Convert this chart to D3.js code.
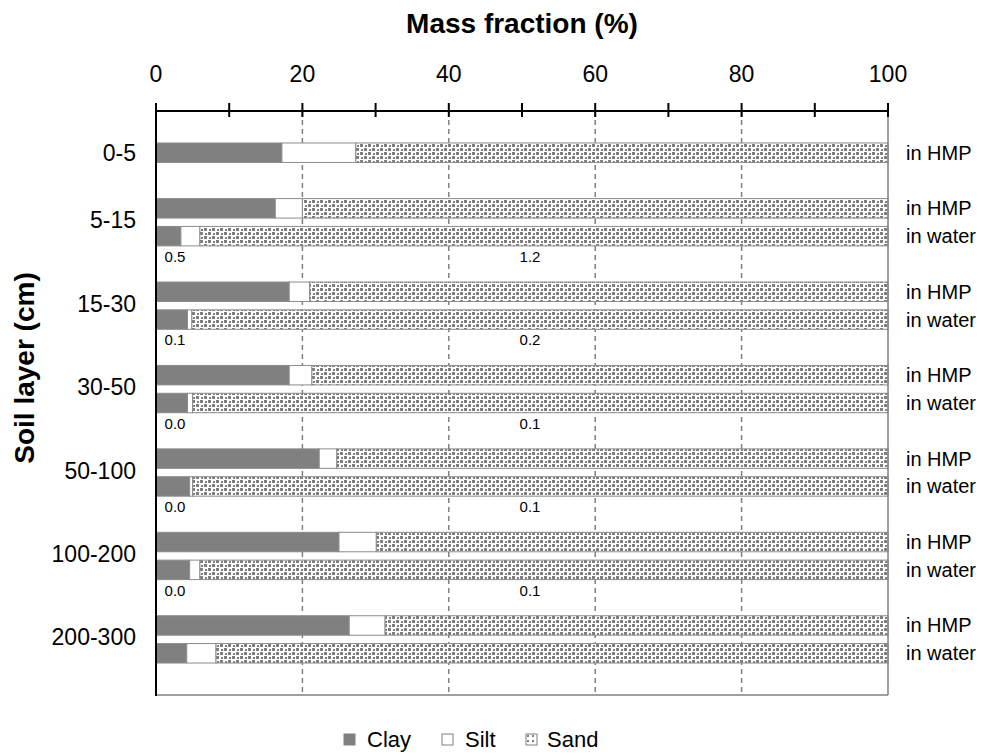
<!DOCTYPE html>
<html>
<head>
<meta charset="utf-8">
<script src="https://cdn.jsdelivr.net/npm/d3@7"></script>
<style>
  html, body { margin: 0; padding: 0; background: #fff; }
  svg { display: block; font-family: "Liberation Sans", Arial, sans-serif; }
</style>
</head>
<body>
<svg id="chart" width="989" height="755"></svg>
<script>
// ---- data ----
const categories = ["0-5", "5-15", "15-30", "30-50", "50-100", "100-200", "200-300"];
const hmpClay   = [17.2, 16.3, 18.2, 18.2, 22.3, 25.0, 26.4];
const hmpSilt   = [10.1, 3.7, 2.8, 3.1, 2.4, 5.1, 4.9];
const waterClay = [null, 3.4, 4.3, 4.3, 4.6, 4.6, 4.2];
const waterSilt = [null, 2.6, 0.6, 0.7, 0.4, 1.4, 4.0];
const waterNoteA = [null, "0.5", "0.1", "0.0", "0.0", "0.0", null];
const waterNoteB = [null, "1.2", "0.2", "0.1", "0.1", "0.1", null];
const xTickLabels = [0, 20, 40, 60, 80, 100];
const components = ["Clay", "Silt", "Sand"];

// ---- layout ----
const svg = d3.select("#chart");
const pLeft = 156, pRight = 888, pTop = 111, pBottom = 695;

const x = d3.scaleLinear().domain([0, 100]).range([pLeft, pRight]);

const slots = ["top-gap"];
categories.forEach((c, i) => {
  slots.push(c + "|HMP", c + "|water");
  if (i > 0) slots.push(c + "|gap");
});
const y = d3.scaleBand().domain(slots).range([pTop, pBottom]).paddingInner(0.3).paddingOuter(0.15);

// pattern for sand
const defs = svg.append("defs");
const pat = defs.append("pattern").attr("id", "confetti")
  .attr("patternUnits", "userSpaceOnUse").attr("width", 8).attr("height", 8);
pat.append("rect").attr("width", 8).attr("height", 8).attr("fill", "#fff");
[[0, 0, 3, 3], [4, 4, 3, 3], [5, 1, 2, 2], [1, 5, 2, 2]].forEach(r => {
  pat.append("rect").attr("x", r[0]).attr("y", r[1]).attr("width", r[2]).attr("height", r[3]).attr("fill", "#7f7f7f");
});

const legPat = defs.append("pattern").attr("id", "confettiSmall")
  .attr("patternUnits", "userSpaceOnUse").attr("width", 5).attr("height", 5);
legPat.append("rect").attr("width", 5).attr("height", 5).attr("fill", "#fff");
legPat.append("rect").attr("x", 1).attr("y", 1).attr("width", 2).attr("height", 2).attr("fill", "#7f7f7f");

const fills = { clay: "#808080", silt: "#ffffff", sand: "url(#confetti)" };

// gridlines
svg.append("g").selectAll("line")
  .data(xTickLabels.filter(v => v > 0 && v < 100))
  .join("line")
  .attr("x1", d => x(d)).attr("x2", d => x(d))
  .attr("y1", pTop).attr("y2", pBottom)
  .attr("stroke", "#808080").attr("stroke-width", 1.5)
  .attr("stroke-dasharray", "5,4");

// rows
const rows = [];
categories.forEach((c, i) => {
  rows.push({ slot: c + "|HMP", medium: "in HMP", clay: hmpClay[i], silt: hmpSilt[i], sand: 100 - hmpClay[i] - hmpSilt[i] });
  if (waterClay[i] != null) {
    rows.push({ slot: c + "|water", medium: "in water", clay: waterClay[i], silt: waterSilt[i], sand: 100 - waterClay[i] - waterSilt[i] });
  }
});

const stack = d3.stack().keys(["clay", "silt", "sand"]);
const series = stack(rows);

svg.append("g").selectAll("g")
  .data(series).join("g")
  .attr("fill", d => fills[d.key])
  .selectAll("rect")
  .data(d => d).join("rect")
  .attr("x", d => x(d[0]))
  .attr("width", d => x(d[1]) - x(d[0]))
  .attr("y", d => y(d.data.slot))
  .attr("height", y.bandwidth())
  .attr("stroke", "#8c8c8c").attr("stroke-width", 1);

// medium labels on right
svg.append("g").selectAll("text")
  .data(rows).join("text")
  .attr("x", 906)
  .attr("y", d => y(d.slot) + y.bandwidth() / 2)
  .attr("dy", "0.35em")
  .attr("font-size", 20)
  .attr("fill", "#000")
  .text(d => d.medium);

// small notes below water bars
const notes = [];
categories.forEach((c, i) => {
  if (waterNoteA[i] != null) notes.push({ slot: c + "|water", text: waterNoteA[i], pos: 2.6 });
  if (waterNoteB[i] != null) notes.push({ slot: c + "|water", text: waterNoteB[i], pos: 51.1 });
});
svg.append("g").selectAll("text")
  .data(notes).join("text")
  .attr("x", d => x(d.pos))
  .attr("y", d => y(d.slot) + y.bandwidth() + 16)
  .attr("text-anchor", "middle")
  .attr("font-size", 15)
  .attr("fill", "#000")
  .text(d => d.text);

// category labels
svg.append("g").selectAll("text")
  .data(categories).join("text")
  .attr("x", 136)
  .attr("y", (c, i) => {
    const a = y(c + "|HMP") + y.bandwidth() / 2;
    if (waterClay[i] == null) return a;
    const b = y(c + "|water") + y.bandwidth() / 2;
    return (a + b) / 2 - 2;
  })
  .attr("dy", "0.35em")
  .attr("text-anchor", "end")
  .attr("font-size", 23)
  .attr("fill", "#000")
  .text(d => d);

// frame: right & bottom gray
svg.append("line").attr("x1", pRight).attr("x2", pRight).attr("y1", pTop).attr("y2", pBottom)
  .attr("stroke", "#808080").attr("stroke-width", 1.5);
svg.append("line").attr("x1", pLeft).attr("x2", pRight).attr("y1", pBottom).attr("y2", pBottom)
  .attr("stroke", "#808080").attr("stroke-width", 1.5);
// left axis black
svg.append("line").attr("x1", pLeft).attr("x2", pLeft).attr("y1", pTop).attr("y2", pBottom + 1)
  .attr("stroke", "#000").attr("stroke-width", 2);

// top axis
const axisG = svg.append("g").attr("transform", `translate(0,${pTop})`);
axisG.append("line").attr("x1", pLeft).attr("x2", pRight).attr("y1", 0).attr("y2", 0)
  .attr("stroke", "#000").attr("stroke-width", 2);
axisG.selectAll("line.tick")
  .data(x.ticks(10)).join("line").attr("class", "tick")
  .attr("x1", d => x(d)).attr("x2", d => x(d))
  .attr("y1", -8).attr("y2", 6)
  .attr("stroke", "#000").attr("stroke-width", 2);
axisG.selectAll("text.tl")
  .data(xTickLabels).join("text").attr("class", "tl")
  .attr("x", d => x(d)).attr("y", -29)
  .attr("text-anchor", "middle")
  .attr("font-size", 23)
  .attr("fill", "#000")
  .text(d => d);

// titles
svg.append("text").attr("x", (pLeft + pRight) / 2).attr("y", 33)
  .attr("text-anchor", "middle").attr("font-size", 28).attr("font-weight", "bold")
  .attr("fill", "#000").text("Mass fraction (%)");
svg.append("text").attr("transform", "translate(34,368) rotate(-90)")
  .attr("text-anchor", "middle").attr("font-size", 28).attr("font-weight", "bold")
  .attr("fill", "#000").text("Soil layer (cm)");

// legend
const legX = [344, 442, 526];
const legFill = ["#808080", "#ffffff", "url(#confettiSmall)"];
const lg = svg.append("g").selectAll("g").data(components).join("g")
  .attr("transform", (d, i) => `translate(${legX[i]},734)`);
lg.append("rect").attr("width", 11).attr("height", 11)
  .attr("fill", (d, i) => legFill[i]).attr("stroke", "#808080").attr("stroke-width", 1);
lg.append("text").attr("x", (d, i) => i === 2 ? 21 : 23).attr("y", 13)
  .attr("font-size", 22).attr("fill", "#000").text(d => d);
</script>
</body>
</html>
